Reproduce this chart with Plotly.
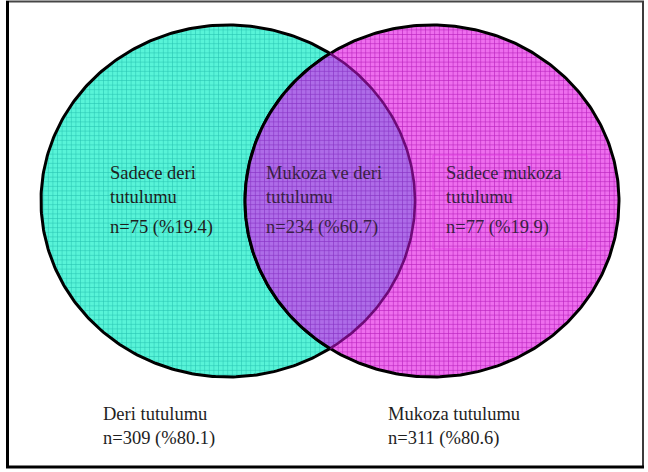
import numpy as np
import plotly.graph_objects as go

# ---- data ----
region_titles = ["Sadece deri<br>tutulumu", "Mukoza ve deri<br>tutulumu", "Sadece mukoza<br>tutulumu"]
region_n = [75, 234, 77]
region_pct = [19.4, 60.7, 19.9]
set_titles = ["Deri tutulumu", "Mukoza tutulumu"]
set_n = [309, 311]
set_pct = [80.1, 80.6]

# ---- geometry (pixel space) ----
W, H = 648, 472
cy, rx, ry = 201, 187, 176
cx_left, cx_right = 228, 432

def ell(cx, t):
    return cx + rx * np.cos(t), cy + ry * np.sin(t)

t_full = np.linspace(0, 2 * np.pi, 400)
th0 = np.arccos(((cx_right - cx_left) / 2) / rx)

fig = go.Figure()

# left circle
x, y = ell(cx_left, t_full)
fig.add_trace(go.Scatter(x=x, y=y, mode="lines", fill="toself",
    line=dict(color="black", width=3),
    fillpattern=dict(shape="+", size=4.6, solidity=0.22, fillmode="replace",
                     bgcolor="rgb(88,244,216)", fgcolor="rgb(40,196,178)"),
    hoverinfo="skip"))
# right circle
x, y = ell(cx_right, t_full)
fig.add_trace(go.Scatter(x=x, y=y, mode="lines", fill="toself",
    line=dict(color="black", width=3),
    fillpattern=dict(shape="+", size=4.6, solidity=0.24, fillmode="replace",
                     bgcolor="rgb(238,110,238)", fgcolor="rgb(185,35,190)"),
    hoverinfo="skip"))
# lens (intersection)
ta = np.linspace(-th0, th0, 120)
xa, ya = ell(cx_left, ta)
tb = np.linspace(np.pi - th0, np.pi + th0, 120)
xb, yb = ell(cx_right, tb)
lx = np.concatenate([xa, xb])
ly = np.concatenate([ya, yb])
fig.add_trace(go.Scatter(x=lx, y=ly, mode="lines", fill="toself",
    line=dict(color="rgba(0,0,0,0)", width=0),
    fillpattern=dict(shape="+", size=4.6, solidity=0.24, fillmode="replace",
                     bgcolor="rgb(174,108,232)", fgcolor="rgb(135,50,195)"),
    hoverinfo="skip"))
# arc of left circle inside right circle (purple)
fig.add_trace(go.Scatter(x=xa, y=ya, mode="lines",
    line=dict(color="rgb(110,10,120)", width=2.6), hoverinfo="skip"))
# arc of right circle inside left circle (black)
fig.add_trace(go.Scatter(x=xb, y=yb, mode="lines",
    line=dict(color="black", width=3), hoverinfo="skip"))

font = dict(family="Liberation Serif, Times New Roman, serif", size=18.5, color="#1e1e1e")
font_p = dict(family="Liberation Serif, Times New Roman, serif", size=18.5, color="#3a1f44")

region_x = [108, 264, 444]
annotations = []
for i in range(3):
    f = font if i == 0 else font_p
    annotations.append(dict(x=region_x[i], y=161, xref="x", yref="y", text=region_titles[i],
                            showarrow=False, xanchor="left", yanchor="top", align="left", font=f))
    annotations.append(dict(x=region_x[i], y=227, xref="x", yref="y",
                            text=f"n={region_n[i]} (%{region_pct[i]})",
                            showarrow=False, xanchor="left", yanchor="middle", align="left", font=f))
set_x = [101, 386]
for i in range(2):
    annotations.append(dict(x=set_x[i], y=402, xref="x", yref="y",
                            text=f"{set_titles[i]}<br>n={set_n[i]} (%{set_pct[i]})",
                            showarrow=False, xanchor="left", yanchor="top", align="left", font=font))

shapes = [
    # frame: thin grey top/right, heavier black left/bottom
    dict(type="line", x0=6, y0=1.5, x1=644, y1=1.5, xref="x", yref="y",
         line=dict(color="rgb(70,70,70)", width=2), layer="above"),
    dict(type="line", x0=643, y0=1, x1=643, y1=468, xref="x", yref="y",
         line=dict(color="rgb(60,60,60)", width=2), layer="above"),
    dict(type="line", x0=7.5, y0=1, x1=7.5, y1=468, xref="x", yref="y",
         line=dict(color="black", width=3), layer="above"),
    dict(type="line", x0=6, y0=467, x1=644, y1=467, xref="x", yref="y",
         line=dict(color="black", width=3), layer="above"),
    dict(type="rect", x0=433, y0=155, x1=587, y1=249, xref="x", yref="y",
         line=dict(color="rgba(225,60,225,0.8)", width=1), fillcolor="rgba(0,0,0,0)", layer="above"),
]

fig.update_layout(
    width=W, height=H, margin=dict(l=0, r=0, t=0, b=0),
    paper_bgcolor="white", plot_bgcolor="white", showlegend=False,
    xaxis=dict(range=[0, W], visible=False, fixedrange=True),
    yaxis=dict(range=[H, 0], visible=False, fixedrange=True),
    annotations=annotations, shapes=shapes,
)
fig.write_html("out.html", config={"displayModeBar": False},
               post_script="document.body.style.margin='0';document.body.style.overflow='hidden';")
